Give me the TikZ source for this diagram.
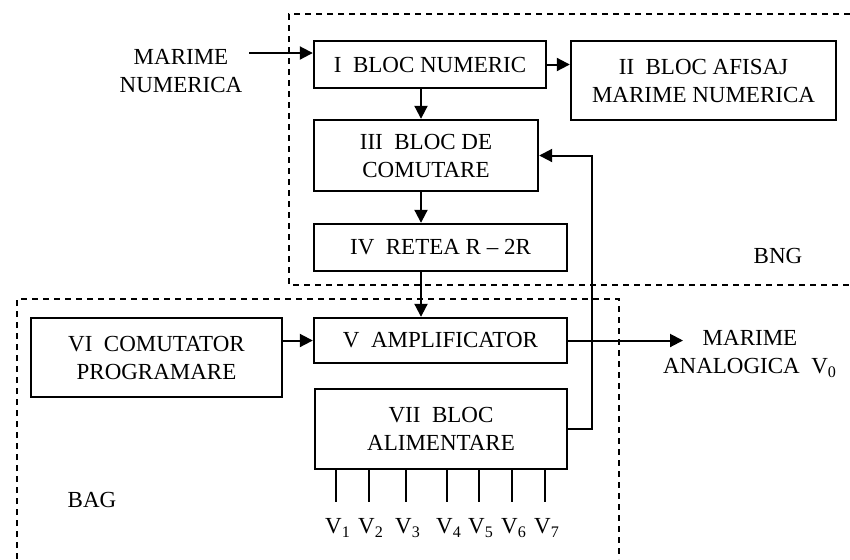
\documentclass[tikz,border=0pt]{standalone}
\usepackage{fontspec}
\setmainfont{Liberation Serif}
\usetikzlibrary{arrows.meta}
\begin{document}
\begin{tikzpicture}[x=0.5pt,y=-0.5pt,
  font=\fontsize{11.5}{14}\selectfont,
  blk/.style={draw,line width=1.2pt,inner sep=0pt,align=center},
  conn/.style={line width=1pt},
  arr/.style={line width=1pt,-{Triangle[length=6.5pt,width=6.5pt]}},
  grp/.style={line width=0.9pt,dash pattern=on 3pt off 2.5pt},
  lbl/.style={align=center,inner sep=0pt}]
\useasboundingbox (0,0) rectangle (850,559);
% group frames
\draw[grp] (850,14) -- (289,14) -- (289,285) -- (850,285);
\draw[grp] (17,559) -- (17,299) -- (619,299) -- (619,559);
% blocks
\node[blk,minimum width=116pt,minimum height=23.5pt] (I) at (430,64.5) {I\ \ BLOC NUMERIC};
\node[blk,minimum width=132.5pt,minimum height=39.5pt] (II) at (703.5,80.5) {II\ \ BLOC AFISAJ\\MARIME NUMERICA};
\node[blk,minimum width=112pt,minimum height=35.5pt] (III) at (426,155.5) {III\ \ BLOC DE\\COMUTARE};
\node[blk,minimum width=126.5pt,minimum height=23.5pt] (IV) at (440.5,247.5) {IV\ \ RETEA R -- 2R};
\node[blk,minimum width=126.5pt,minimum height=22.5pt] (V) at (440.5,340.5) {V\ \ AMPLIFICATOR};
\node[blk,minimum width=125.5pt,minimum height=39.5pt] (VI) at (156.5,357.5) {VI\ \ COMUTATOR\\PROGRAMARE};
\node[blk,minimum width=126pt,minimum height=40pt] (VII) at (441,429) {VII\ \ BLOC\\ALIMENTARE};
% labels
\node[lbl] (in) at (181,71) {MARIME\\NUMERICA};
\node[lbl] (out) at (750,354) {MARIME\\ANALOGICA\ \ V\textsubscript{0}};
\node[lbl] (bng) at (778,256) {BNG};
\node[lbl] (bag) at (92,500) {BAG};
% helper coordinates
\coordinate (ax) at (421,0);
\coordinate (inS) at (249,53);
\coordinate (outE) at (683,0);
\coordinate (fb) at (592,0);
% connectors
\draw[arr] (inS) -- (inS -| I.west);
\draw[arr] (I.east) -- (I.east -| II.west);
\draw[arr] (I.south -| ax) -- (III.north -| ax);
\draw[arr] (III.south -| ax) -- (IV.north -| ax);
\draw[arr] (IV.south -| ax) -- (V.north -| ax);
\draw[arr] (VI.east |- V.west) -- (V.west);
\draw[arr] (V.east) -- (V.east -| outE);
\draw[arr] (VII.east) -- (VII.east -| fb) |- (III.east);
% supply outputs
\foreach \i/\x in {1/336,2/369,3/406,4/447,5/479,6/512,7/545}{
  \coordinate (t\i) at (\x,502);
  \draw[conn] (VII.south -| t\i) -- (t\i);
  \node[lbl] (v\i) at (\x+2,528) {V\textsubscript{\i}};
}
\end{tikzpicture}
\end{document}
